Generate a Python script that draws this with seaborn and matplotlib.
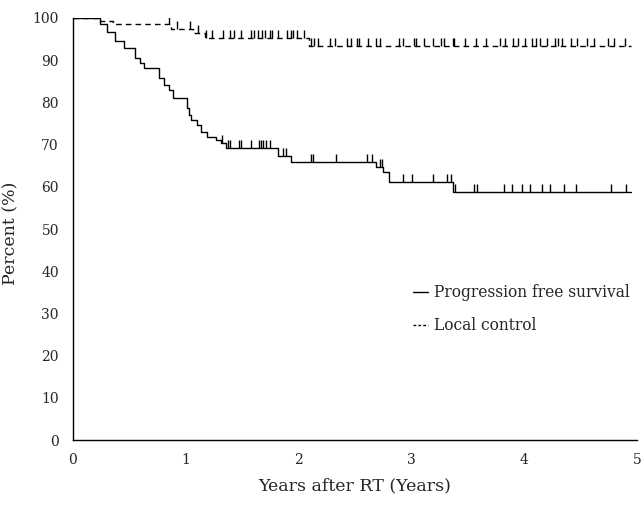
import numpy as np
import pandas as pd
import matplotlib
matplotlib.use("Agg")
import matplotlib.pyplot as plt
import seaborn as sns

# Progression free survival: step times (years) and survival (%) after each step
pfs_times = [0, 0.24, 0.30, 0.37, 0.45, 0.55, 0.60, 0.63, 0.76, 0.81, 0.85, 0.89,
             1.01, 1.03, 1.05, 1.10, 1.14, 1.19, 1.27, 1.31, 1.36, 1.82, 1.93,
             2.69, 2.75, 2.80, 3.37, 4.95]
pfs_surv = [100, 98.5, 96.7, 94.5, 93, 90.5, 89.3, 88.1, 85.8, 84.1, 82.9, 81,
            78.7, 77, 75.8, 74.6, 73, 71.8, 71, 70.4, 69.2, 67.2, 65.8,
            64.6, 63.4, 61.2, 58.7, 58.7]
pfs_censor = [1.32, 1.38, 1.39, 1.47, 1.49, 1.58, 1.65, 1.67, 1.69, 1.71, 1.75,
              1.86, 1.89, 2.11, 2.13, 2.33, 2.61, 2.65, 2.72, 2.74, 2.93, 3.01,
              3.19, 3.32, 3.35, 3.39, 3.56, 3.58, 3.82, 3.89, 3.98, 4.05, 4.16,
              4.23, 4.35, 4.46, 4.77, 4.90]

# Local control
lc_times = [0, 0.24, 0.36, 0.87, 1.07, 1.17, 2.09, 4.95]
lc_surv = [100, 99.3, 98.6, 97.3, 96.5, 95.2, 93.4, 93.4]
lc_censor = [0.85, 0.92, 1.04, 1.11, 1.18, 1.23, 1.33, 1.39, 1.43, 1.49, 1.58,
             1.61, 1.64, 1.68, 1.70, 1.75, 1.77, 1.82, 1.90, 1.93, 1.95, 1.99,
             2.05, 2.11, 2.14, 2.17, 2.28, 2.32, 2.43, 2.47, 2.52, 2.54, 2.62,
             2.69, 2.72, 2.89, 2.93, 3.02, 3.04, 3.11, 3.19, 3.26, 3.29, 3.37,
             3.38, 3.48, 3.57, 3.66, 3.79, 3.83, 3.90, 3.95, 4.01, 4.07, 4.11,
             4.14, 4.20, 4.27, 4.30, 4.34, 4.42, 4.47, 4.56, 4.62, 4.74, 4.80,
             4.89]

x_ticks = [0, 1, 2, 3, 4, 5]
y_ticks = [0, 10, 20, 30, 40, 50, 60, 70, 80, 90, 100]
labels = ["Progression free survival", "Local control"]


def step_value(times, surv, t):
    idx = np.searchsorted(times, t, side="right") - 1
    return surv[max(idx, 0)]


sns.set_style("white")
plt.rcParams["font.family"] = ["DejaVu Serif"]

fig = plt.figure(figsize=(6.44, 5.07), dpi=100)
ax = fig.add_axes([0.113, 0.132, 0.876, 0.8325])

pfs_df = pd.DataFrame({"t": pfs_times, "s": pfs_surv})
lc_df = pd.DataFrame({"t": lc_times, "s": lc_surv})

sns.lineplot(data=pfs_df, x="t", y="s", drawstyle="steps-post", color="black",
             linewidth=1.0, estimator=None, sort=False, ax=ax, label=labels[0])
sns.lineplot(data=lc_df, x="t", y="s", drawstyle="steps-post", color="black",
             linewidth=1.0, estimator=None, sort=False, ax=ax, label=labels[1],
             dashes=False)
ax.lines[1].set_linestyle((0, (4, 3)))

pc = pd.DataFrame({"t": pfs_censor,
                   "s": [step_value(pfs_times, pfs_surv, t) + 1.0 for t in pfs_censor]})
lcc = pd.DataFrame({"t": lc_censor,
                    "s": [step_value(lc_times, lc_surv, t) + 1.0 for t in lc_censor]})
sns.scatterplot(data=pc, x="t", y="s", marker="|", s=40, color="black",
                linewidth=1.0, ax=ax, legend=False)
sns.scatterplot(data=lcc, x="t", y="s", marker="|", s=40, color="black",
                linewidth=1.0, ax=ax, legend=False)

ax.set_xlim(0, 5)
ax.set_ylim(0, 100)
ax.set_xticks(x_ticks)
ax.set_yticks(y_ticks)
ax.set_xticklabels([str(v) for v in x_ticks])
ax.set_yticklabels([str(v) for v in y_ticks])
ax.tick_params(axis="both", labelsize=10, length=2, width=0.8, color="black",
               direction="out", pad=7)
ax.tick_params(axis="y", length=0, pad=10)
for side in ["top", "right"]:
    ax.spines[side].set_visible(False)
for side in ["left", "bottom"]:
    ax.spines[side].set_color("black")
    ax.spines[side].set_linewidth(1.0)

ax.set_xlabel("Years after RT (Years)", fontsize=12.5, labelpad=8)
ax.set_ylabel("Percent (%)", fontsize=12.5)
ax.yaxis.set_label_coords(-0.094, 0.49)

leg = ax.legend(loc="center left", bbox_to_anchor=(0.578, 0.31), frameon=False,
                fontsize=11.2, handlelength=1.0, handletextpad=0.35,
                labelspacing=1.05)
leg.get_lines()[1].set_linestyle((0, (2, 1.5)))

fig.savefig("out.png", dpi=100)
